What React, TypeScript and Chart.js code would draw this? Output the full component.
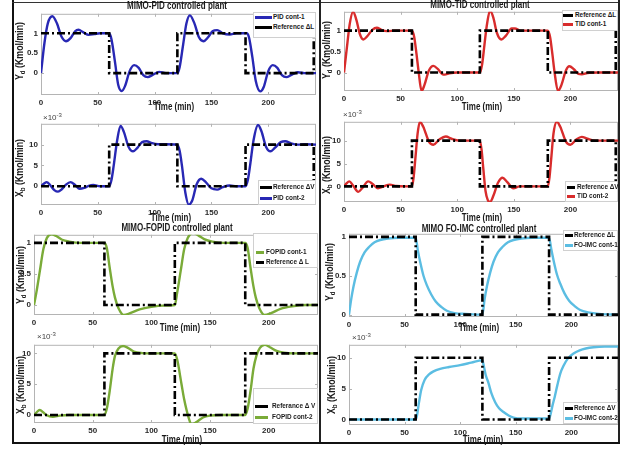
import React, { useEffect, useRef } from "react";
import { Chart, registerables } from "chart.js";
Chart.register(...registerables);

const FONT = '"Liberation Sans", Arial, sans-serif';

// ---------- data ----------
const X_TICKS = [0, 50, 100, 150, 200];
const YD_TICKS = [0, 0.5, 1];
const XB_TICKS = [0, 5, 10];

const REF_L_ALT: number[][] = [[0, 1], [60, 1], [60, 0], [120, 0], [120, 1], [180, 1], [180, 0], [240, 0], [240, 1]];
const REF_V_ALT: number[][] = [[0, 0], [60, 0], [60, 10], [120, 10], [120, 0], [180, 0], [180, 10], [240, 10], [240, 0]];
const REF_L: number[][] = [[0, 1], [60, 1], [60, 0], [120, 0], [120, 1], [180, 1], [180, 0], [242, 0]];
const REF_V: number[][] = [[0, 0], [60, 0], [60, 10], [120, 10], [120, 0], [180, 0], [180, 10], [242, 10]];

const PID_CONT1: number[][] = [
  [0, 0], [3, 0.75], [6, 1.25], [10, 1.43], [14, 1.25], [18, 0.92], [22, 0.8], [26, 0.88], [30, 1.05], [33, 1.09],
  [37, 1.03], [42, 0.96], [47, 0.98], [52, 1.0], [60, 1.0], [62, 0.85], [65, 0.3], [68, -0.3], [71, -0.45], [74, -0.32],
  [78, 0.05], [82, 0.2], [86, 0.13], [90, -0.05], [94, -0.1], [98, -0.05], [104, 0.03], [110, 0], [120, 0], [122, 0.15],
  [125, 0.7], [128, 1.25], [131, 1.45], [135, 1.25], [139, 0.9], [143, 0.8], [147, 0.9], [151, 1.05], [155, 1.08], [160, 1.0],
  [166, 0.97], [172, 1.0], [181, 1.0], [183, 0.9], [186, 0.4], [189, -0.2], [193, -0.46], [196, -0.35], [200, 0.05], [204, 0.2],
  [208, 0.13], [212, -0.05], [216, -0.1], [220, -0.05], [226, 0.02], [232, 0], [242, 0],
];
const PID_CONT2: number[][] = [
  [0, 0], [3, 0.7], [5, 1.0], [8, 0.3], [12, -1.0], [15, -1.3], [18, -0.8], [22, 0.4], [26, 1.0], [30, 0.3],
  [34, -0.6], [38, -0.4], [42, 0.1], [46, 0.3], [52, 0], [60, 0], [62, 1.5], [64, 5], [67, 11], [70, 14.5],
  [73, 13], [77, 9.5], [81, 8.4], [85, 9.3], [89, 10.6], [93, 10.8], [97, 10.4], [103, 10.1], [110, 10.1], [120, 10],
  [122, 8.5], [124, 5], [127, -1.5], [130, -4.4], [133, -3.5], [137, 0.5], [141, 1.8], [145, 1.0], [150, -0.5], [155, -0.8],
  [160, -0.2], [166, 0.2], [172, 0], [180, 0], [182, 1.5], [184, 5], [187, 11], [191, 14.7], [194, 13.2], [198, 9.5],
  [202, 8.4], [206, 9.3], [211, 10.6], [215, 10.8], [220, 10.3], [226, 10.0], [232, 10.1], [242, 10],
];
const TID_CONT1: number[][] = [
  [0, 0], [3, 0.7], [5, 1.15], [8, 1.45], [11, 1.25], [14, 0.92], [17, 0.79], [20, 0.85], [25, 1.02], [29, 1.07],
  [33, 1.02], [38, 0.99], [45, 1.0], [60, 1.0], [62, 0.85], [64, 0.45], [66, 0.0], [68.5, -0.44], [71, -0.3], [75, 0.05],
  [79, 0.16], [83, 0.08], [87, -0.04], [89, -0.05], [93, -0.02], [100, 0], [120, 0], [122, 0.2], [124, 0.65], [126, 1.1],
  [129, 1.48], [132, 1.3], [135, 0.95], [139, 0.79], [143, 0.88], [148, 1.05], [151, 1.05], [156, 1.0], [165, 1.0], [180, 1.0],
  [182, 0.85], [184, 0.45], [186, 0.0], [189, -0.44], [192, -0.3], [196, 0.05], [199, 0.15], [203, 0.08], [207, -0.03], [210, -0.04],
  [215, -0.01], [225, 0], [242, 0],
];
const TID_CONT2: number[][] = [
  [0, 0], [2, 0.6], [4.7, 1.1], [8, 0.2], [12.6, -1.2], [16, -0.4], [21.4, 1.1], [25, 0.6], [30, -0.4], [35, 0],
  [40.5, 0.4], [46, 0.1], [55, 0], [60, 0], [61.5, 2], [63, 6], [65, 11.5], [67, 14.1], [70, 13], [75, 9.8],
  [79, 9.1], [84, 10.2], [90, 10.9], [95, 10.4], [102, 10], [120, 10], [121.5, 8], [123, 4], [125, -1], [127, -3],
  [129, -3.4], [132, -2], [136, 0.8], [140, 1.9], [144, 1.0], [149.6, -0.4], [155, 0], [180, 0], [181.5, 2], [183, 6],
  [185, 11.5], [188, 14.1], [191, 13], [196, 9.8], [200, 9.1], [205, 10.2], [210, 10.8], [215, 10.4], [222, 10], [242, 10],
];
const FOPID_CONT1: number[][] = [
  [0, 0], [2, 0.2], [5, 0.55], [8, 0.9], [11, 1.08], [14.8, 1.14], [19, 1.11], [24, 1.05], [30, 1.02], [40, 1.0],
  [60, 1.0], [62, 0.92], [64.5, 0.6], [67, 0.3], [69, 0.12], [72, -0.05], [76.5, -0.16], [82, -0.13], [90, -0.07], [100, -0.03],
  [110, -0.01], [120, 0], [122, 0.2], [125, 0.55], [128, 0.9], [131, 1.08], [135.6, 1.16], [140, 1.12], [145, 1.06], [152, 1.02],
  [162, 1.0], [180, 1.0], [182, 0.92], [184.5, 0.6], [187, 0.3], [189, 0.12], [192, -0.05], [196.5, -0.16], [202, -0.13], [210, -0.06],
  [220, -0.02], [232, 0], [242, 0],
];
const FOPID_CONT2: number[][] = [
  [0, 0], [2, 0.4], [4.9, 0.8], [8, 0.4], [10.5, 0], [16, -0.3], [22, -0.1], [30, 0], [60, 0], [62, 1],
  [64.5, 3.9], [67, 7.5], [69, 9.6], [72, 10.8], [75.9, 11.2], [80, 10.9], [85, 10.3], [92, 10.05], [100, 10], [120, 10],
  [122, 9], [125.7, 5], [128, 2.5], [130, 0.8], [132, -0.6], [134, -1.5], [138, -1.2], [144, -0.4], [150, -0.1], [160, 0],
  [180, 0], [182, 1], [184.5, 3.9], [187, 7.5], [189.5, 9.6], [192.5, 10.9], [196.7, 11.4], [201, 11], [206.7, 10.4], [213, 10.1],
  [222, 10], [242, 10],
];
const FOIMC_CONT1: number[][] = [
  [0, 0], [2, 0.2], [4, 0.36], [7, 0.54], [10, 0.68], [14, 0.8], [18, 0.87], [23, 0.93], [28, 0.96], [35, 0.98],
  [45, 0.99], [60, 0.99], [62, 0.82], [64, 0.68], [67, 0.5], [70, 0.38], [74, 0.26], [78, 0.17], [83, 0.1], [88, 0.05],
  [95, 0.02], [105, 0.01], [120, 0], [122, 0.2], [124, 0.36], [127, 0.54], [130, 0.68], [134, 0.8], [138, 0.87], [143, 0.93],
  [148, 0.96], [155, 0.98], [165, 0.99], [180, 0.99], [182, 0.84], [184, 0.7], [187, 0.52], [190, 0.4], [194, 0.27], [198, 0.18],
  [203, 0.11], [208, 0.06], [215, 0.03], [225, 0.01], [242, 0],
];
const FOIMC_CONT2: number[][] = [
  [0, 0], [30, 0], [60, 0], [61, 0.5], [63, 2.8], [65, 4.8], [68, 6.4], [72, 7.3], [76, 7.8], [82, 8.2],
  [90, 8.5], [100, 8.8], [110, 9.2], [120, 9.6], [121, 8.9], [123, 7.2], [125.5, 5.9], [128, 4.3], [131.5, 2.8], [135, 1.8],
  [139, 1.2], [144, 0.6], [148, 0.3], [155, 0.15], [165, 0.15], [180, 0.15], [181, 0.6], [183, 2.2], [185, 3.6], [187.5, 5.6],
  [190, 7.4], [193, 8.7], [197, 9.9], [202, 10.7], [207.5, 11.2], [213, 11.5], [220, 11.7], [230, 11.8], [242, 11.8],
];

const C_PID = "#2828b4";
const C_TID = "#d82c2c";
const C_FOPID = "#7aab38";
const C_FOIMC = "#5bbde2";
const C_REF = "#000000";

type Panel = {
  plot: number[]; // l, t, r, b
  yMin: number; yMax: number; yTicks: number[];
  curve: number[][]; color: string; ref: number[][];
};

const PANELS: Panel[] = [
  { plot: [41, 12, 316, 95], yMin: -0.55, yMax: 1.49, yTicks: YD_TICKS, curve: PID_CONT1, color: C_PID, ref: REF_L_ALT },
  { plot: [41, 122, 316, 205], yMin: -4.5, yMax: 15, yTicks: XB_TICKS, curve: PID_CONT2, color: C_PID, ref: REF_V_ALT },
  { plot: [344, 10, 618, 91], yMin: -0.44, yMax: 1.45, yTicks: YD_TICKS, curve: TID_CONT1, color: C_TID, ref: REF_L_ALT },
  { plot: [344, 120, 618, 202], yMin: -3.4, yMax: 14.1, yTicks: XB_TICKS, curve: TID_CONT2, color: C_TID, ref: REF_V_ALT },
  { plot: [34, 233, 318, 315], yMin: -0.16, yMax: 1.13, yTicks: YD_TICKS, curve: FOPID_CONT1, color: C_FOPID, ref: REF_L },
  { plot: [34, 343, 318, 423], yMin: -1.3, yMax: 11.4, yTicks: XB_TICKS, curve: FOPID_CONT2, color: C_FOPID, ref: REF_V },
  { plot: [349, 232, 618, 317], yMin: -0.03, yMax: 1.04, yTicks: YD_TICKS, curve: FOIMC_CONT1, color: C_FOIMC, ref: REF_L },
  { plot: [349, 343, 618, 425], yMin: -0.9, yMax: 12.1, yTicks: XB_TICKS, curve: FOIMC_CONT2, color: C_FOIMC, ref: REF_V },
];

const TITLES = [
  { text: "MIMO-PID controlled plant", x: 177, y: 6 },
  { text: "MIMO-TID controlled plant", x: 480, y: 5 },
  { text: "MIMO-FOPID controlled plant", x: 177, y: 228 },
  { text: "MIMO FO-IMC controlled plant", x: 479, y: 229 },
];
const TIME_LABELS = [[174, 107], [171, 218], [482, 107], [482, 218], [180, 328], [182, 440], [479, 328], [483, 440]];
const Y_LABELS = [
  { sym: "Y", sub: "d", x: 20, y: 51 }, { sym: "X", sub: "b", x: 20, y: 168 },
  { sym: "Y", sub: "d", x: 327, y: 50 }, { sym: "X", sub: "b", x: 327, y: 165 },
  { sym: "Y", sub: "d", x: 21, y: 275 }, { sym: "X", sub: "b", x: 21, y: 385 },
  { sym: "Y", sub: "d", x: 330, y: 272 }, { sym: "X", sub: "b", x: 332, y: 385 },
];
const EXP_LABELS = [[43, 118], [343, 115], [37, 337], [352, 338]];

type Legend = { box: number[]; line: number[]; textX: number; rows: { y: number; label: string; color: string }[] };
const LEGENDS: Legend[] = [
  { box: [253, 12, 316, 38], line: [255, 272], textX: 273, rows: [{ y: 17, label: "PID cont-1", color: C_PID }, { y: 27, label: "Reference ΔL", color: C_REF }] },
  { box: [258, 180, 316, 205], line: [260, 272], textX: 273, rows: [{ y: 187, label: "Reference ΔV", color: C_REF }, { y: 198, label: "PID cont-2", color: C_PID }] },
  { box: [562, 10, 618, 31], line: [563, 573], textX: 575, rows: [{ y: 15, label: "Reference  ΔL", color: C_REF }, { y: 24, label: "TID cont-1", color: C_TID }] },
  { box: [565, 181, 618, 202], line: [567, 575], textX: 577, rows: [{ y: 187, label: "Reference  ΔV", color: C_REF }, { y: 196, label: "TID cont-2", color: C_TID }] },
  { box: [253, 233, 318, 268], line: [256, 264], textX: 266, rows: [{ y: 252, label: "FOPID cont-1", color: C_FOPID }, { y: 262, label: "Reference Δ L", color: C_REF }] },
  { box: [253, 388, 318, 424], line: [255, 268], textX: 272, rows: [{ y: 406, label: "Referance Δ V", color: C_REF }, { y: 417, label: "FOPID cont-2", color: C_FOPID }] },
  { box: [563, 230, 618, 251], line: [565, 573], textX: 574, rows: [{ y: 235, label: "Reference  ΔL", color: C_REF }, { y: 245, label: "FO-IMC cont-1", color: C_FOIMC }] },
  { box: [563, 402, 618, 424], line: [565, 573], textX: 574, rows: [{ y: 408, label: "Reference ΔV", color: C_REF }, { y: 418, label: "FO-IMC cont-2", color: C_FOIMC }] },
];

// ---------- chart ----------
const PAD_L = 40, PAD_T = 6, PAD_R = 6, PAD_B = 22;

const boxPlugin = {
  id: "matlabBox",
  beforeDatasetsDraw(chart: any) {
    const { ctx, chartArea: a, scales } = chart;
    ctx.save();
    ctx.strokeStyle = "#b4b4b4";
    ctx.lineWidth = 1;
    ctx.strokeRect(a.left + 0.5, a.top + 0.5, a.width - 1, a.height - 1);
    ctx.beginPath();
    for (const t of scales.x.ticks) {
      const px = Math.round(scales.x.getPixelForValue(t.value)) + 0.5;
      ctx.moveTo(px, a.bottom); ctx.lineTo(px, a.bottom - 3);
      ctx.moveTo(px, a.top); ctx.lineTo(px, a.top + 3);
    }
    for (const t of scales.y.ticks) {
      const py = Math.round(scales.y.getPixelForValue(t.value)) + 0.5;
      ctx.moveTo(a.left, py); ctx.lineTo(a.left + 3, py);
      ctx.moveTo(a.right, py); ctx.lineTo(a.right - 3, py);
    }
    ctx.stroke();
    ctx.restore();
  },
};

function PanelChart({ p }: { p: Panel }) {
  const ref = useRef<HTMLCanvasElement>(null);
  const [l, t, r, b] = p.plot;
  const w = r - l + PAD_L + PAD_R;
  const h = b - t + PAD_T + PAD_B;
  useEffect(() => {
    const tickFont = { family: FONT, size: 8, weight: "bold" as const };
    const chart = new Chart(ref.current!, {
      type: "line",
      data: {
        datasets: [
          {
            data: p.ref.map(([x, y]) => ({ x, y })),
            borderColor: C_REF, borderWidth: 2.6, borderDash: [8, 3, 2, 3],
            pointRadius: 0, tension: 0, fill: false,
          },
          {
            data: p.curve.map(([x, y]) => ({ x, y })),
            borderColor: p.color, borderWidth: 2.4,
            pointRadius: 0, tension: 0.4, cubicInterpolationMode: "monotone", fill: false,
          },
        ],
      },
      options: {
        animation: false,
        responsive: false,
        events: [],
        layout: { padding: { left: 0, top: PAD_T, right: PAD_R, bottom: 0 } },
        plugins: { legend: { display: false }, tooltip: { enabled: false } },
        scales: {
          x: {
            type: "linear", min: 0, max: 242,
            grid: { display: false, drawTicks: false },
            border: { display: false },
            ticks: { font: tickFont, color: "#2a2a2a", padding: 3, maxRotation: 0, callback: (v: any) => String(v) },
            afterBuildTicks: (axis: any) => { axis.ticks = X_TICKS.map((v) => ({ value: v })); },
            afterFit: (axis: any) => { axis.height = PAD_B; },
          },
          y: {
            type: "linear", min: p.yMin, max: p.yMax,
            grid: { display: false, drawTicks: false },
            border: { display: false },
            ticks: { font: tickFont, color: "#2a2a2a", padding: 3, callback: (v: any) => String(v) },
            afterBuildTicks: (axis: any) => { axis.ticks = p.yTicks.map((v) => ({ value: v })); },
            afterFit: (axis: any) => { axis.width = PAD_L; },
          },
        },
      },
      plugins: [boxPlugin],
    } as any);
    return () => chart.destroy();
  }, []);
  return (
    <canvas
      ref={ref}
      width={w}
      height={h}
      style={{ position: "absolute", left: l - PAD_L, top: t - PAD_T, width: w, height: h }}
    />
  );
}

const textBase: React.CSSProperties = {
  position: "absolute", fontFamily: FONT, fontWeight: "bold", color: "#1a1a1a", whiteSpace: "nowrap", lineHeight: 1,
};

export default function App() {
  return (
    <div style={{ position: "fixed", left: 0, top: 0, width: 624, height: 452, background: "#fff", overflow: "hidden" }}>
      {PANELS.map((p, i) => <PanelChart key={i} p={p} />)}
      {/* frame */}
      <div style={{ position: "absolute", left: 12, top: 0, width: 2, height: 444, background: "#111" }} />
      <div style={{ position: "absolute", left: 12, top: 2, width: 608, height: 1, background: "#333" }} />
      <div style={{ position: "absolute", left: 319, top: 0, width: 2, height: 444, background: "#222" }} />
      <div style={{ position: "absolute", left: 618, top: 0, width: 2, height: 444, background: "#222" }} />
      <div style={{ position: "absolute", left: 12, top: 442, width: 608, height: 2, background: "#111" }} />
      {TITLES.map((o, i) => (
        <div key={"t" + i} style={{ ...textBase, fontSize: 10, left: o.x, top: o.y, transform: "translate(-50%,-50%) scaleX(0.8)" }}>{o.text}</div>
      ))}
      {TIME_LABELS.map(([x, y], i) => (
        <div key={"x" + i} style={{ ...textBase, fontSize: 10, left: x, top: y, transform: "translate(-50%,-50%) scaleX(0.8)" }}>Time (min)</div>
      ))}
      {Y_LABELS.map((o, i) => (
        <div key={"y" + i} style={{ ...textBase, fontSize: 10, left: o.x, top: o.y, transform: "translate(-50%,-50%) rotate(-90deg) scaleX(0.88)" }}>
          {o.sym}<span style={{ fontSize: 7, position: "relative", top: 2 }}>{o.sub}</span> (Kmol/min)
        </div>
      ))}
      {EXP_LABELS.map(([x, y], i) => (
        <div key={"e" + i} style={{ ...textBase, fontWeight: "normal", color: "#444", fontSize: 8, left: x, top: y, transform: "translateY(-50%)" }}>
          ×10<span style={{ fontSize: 6, position: "relative", top: -3 }}>-3</span>
        </div>
      ))}
      {LEGENDS.map((lg, i) => (
        <React.Fragment key={"l" + i}>
          <div style={{ position: "absolute", left: lg.box[0], top: lg.box[1], width: lg.box[2] - lg.box[0], height: lg.box[3] - lg.box[1], background: "#fff", border: "1px solid #d0d0d0", boxSizing: "border-box" }} />
          {lg.rows.map((row, j) => (
            <React.Fragment key={j}>
              <div style={{ position: "absolute", left: lg.line[0], top: row.y - 1.5, width: lg.line[1] - lg.line[0], height: 3, background: row.color }} />
              <div style={{ ...textBase, fontSize: 8, left: lg.textX, top: row.y, transform: "translateY(-50%) scaleX(0.8)", transformOrigin: "left center" }}>{row.label}</div>
            </React.Fragment>
          ))}
        </React.Fragment>
      ))}
    </div>
  );
}
